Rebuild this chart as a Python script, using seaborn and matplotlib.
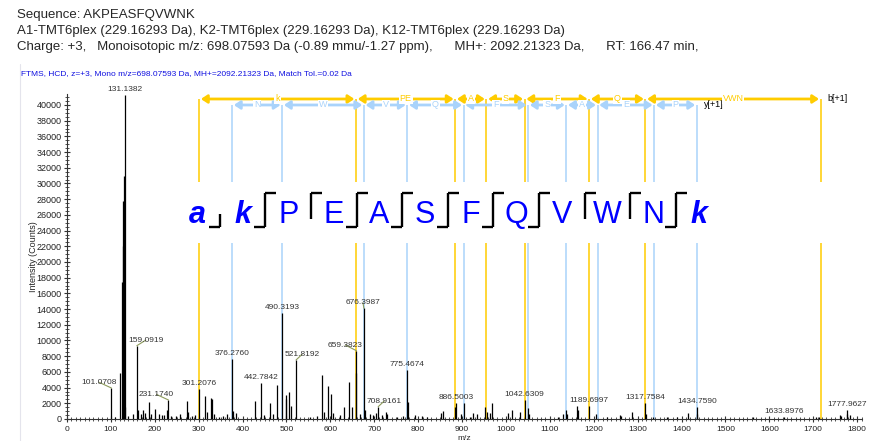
import numpy as np
import pandas as pd
import matplotlib
matplotlib.use('Agg')
import matplotlib.pyplot as plt
import seaborn as sns
from matplotlib.lines import Line2D
from matplotlib.ticker import MultipleLocator

# spectrum peaks (m/z, intensity)
peak_mz = [101.0708, 109.0, 120.08, 126.128, 127.125, 128.131, 129.131, 130.141, 131.1382,
           133.1, 138.0, 151.0, 159.0919, 162.4, 167.7, 172.0, 177.6, 186.0, 190.5, 200.0,
           208.7, 215.6, 221.0, 227.0, 231.1740, 238.0, 248.0, 257.0, 272.5, 275.0, 284.0,
           291.5, 301.2076, 314.0, 318.0, 328.0, 331.0, 335.0, 347.0, 356.0, 363.6, 376.2760,
           377.3, 385.0, 428.0, 442.7842, 448.6, 462.0, 470.0, 477.5, 490.3193, 498.8, 500.0,
           505.0, 509.4, 521.8192, 553.4, 568.6, 581.5, 586.0, 595.0, 600.5, 606.5, 621.7,
           630.8, 643.0, 648.4, 658.4652, 659.3823, 667.0, 676.3987, 678.7, 690.0, 697.6,
           703.7, 708.9161, 716.6, 726.5, 730.0, 750.8, 766.0, 775.4674, 775.80, 792.5, 807.8,
           819.0, 851.0, 857.0, 884.6, 886.5003, 896.6, 903.5, 917.8, 925.0, 933.0, 952.0,
           957.0, 963.0, 968.6, 1003.6, 1014.0, 1031.7, 1042.6309, 1050.6, 1052.0, 1119.0,
           1130.0, 1136.6, 1139.6, 1161.0, 1163.0, 1189.6997, 1206.0, 1229.0, 1259.4, 1263.0,
           1288.0, 1317.7584, 1320.0, 1335.0, 1366.0, 1388.5, 1415.0, 1434.7590, 1436.0,
           1561.6, 1633.8976, 1707.0, 1713.0, 1760.5, 1764.0, 1776.0, 1777.9627, 1783.0]
peak_int = [3950, 300, 5800, 17500, 22000, 27800, 31000, 24000, 41300,
            1500, 400, 600, 9340, 1150, 600, 1200, 800, 2150, 700, 1300,
            600, 500, 500, 1100, 2420, 400, 400, 600, 2300, 900, 400,
            500, 3800, 2950, 900, 2650, 2600, 600, 300, 400, 600, 7650,
            1000, 800, 2250, 4550, 500, 2000, 600, 4330, 13460, 2500, 3060,
            3480, 1700, 7520, 300, 400, 5600, 900, 4150, 3150, 800, 500,
            1500, 4760, 1500, 5820, 8700, 600, 14100, 1200, 600, 500,
            800, 1570, 500, 930, 600, 300, 400, 6240, 2200, 500, 400,
            300, 720, 1000, 1500, 2000, 600, 2000, 300, 800, 600, 1570,
            900, 800, 2000, 720, 1150, 900, 2420, 1360, 600, 300,
            600, 1150, 700, 1650, 1100, 1700, 600, 300, 500, 400,
            930, 2040, 700, 300, 200, 300, 720, 1530, 600,
            300, 250, 300, 200, 500, 400, 600, 1150, 500]

# labelled peaks
label_mz = [101.0708, 131.1382, 159.0919, 231.1740, 301.2076, 376.2760, 442.7842, 490.3193,
            521.8192, 659.3823, 676.3987, 708.9161, 775.4674, 886.5003, 1042.6309, 1189.6997,
            1317.7584, 1434.7590, 1633.8976, 1777.9627]
label_int = [3950, 41300, 9340, 2420, 3800, 7650, 4550, 13460,
             7520, 8700, 14100, 1570, 6240, 2000, 2420, 1700,
             2040, 1530, 250, 1150]
label_dx = [-12, 0, 9, -12, 0, 0, 0, 0, 6, -11, -1, 6, 0, 0, 0, 0, 0, 0, 0, 0]

# matched fragment ions
b_ion_mz = [301.2073, 658.4652, 884.5606, 955.5977, 1042.6297, 1189.6981, 1317.7567, 1716.9473]
b_seg_labels = ['k', 'PE', 'A', 'S', 'F', 'Q', 'VWN']
y_ion_mz = [376.2757, 490.3187, 676.3980, 775.4664, 903.5250, 1050.5934, 1137.6254,
            1208.6625, 1337.7051, 1434.7579]
y_seg_labels = ['N', 'W', 'V', 'Q', 'F', 'S', 'A', 'E', 'P']

sequence = ['a', 'k', 'P', 'E', 'A', 'S', 'F', 'Q', 'V', 'W', 'N', 'k']
b_cleave = [True, True, False, True, True, True, True, True, False, False, True]
y_cleave = [False, True, True, True, True, True, True, True, True, True, True]

B_COL = '#FFCC00'
Y_COL = '#A9D3FB'

sns.set_theme(style='ticks')
plt.rcParams['font.family'] = ['Liberation Sans', 'DejaVu Sans']

W, H = 871, 441
fig = plt.figure(figsize=(W / 100, H / 100), dpi=100)
ax = fig.add_axes([67 / W, 22 / H, (862 - 67) / W, (419 - 94) / H])

df = pd.DataFrame({'mz': peak_mz, 'intensity': peak_int})

yb, yy = 40765, 40000
gap_lo, gap_hi = 22420, 30190

# fragment ion lines, broken where the sequence sits
for mz in b_ion_mz:
    ax.vlines(mz, 0, gap_lo, color=B_COL, lw=1.1, zorder=2)
    ax.vlines(mz, gap_hi, yb, color=B_COL, lw=1.1, zorder=2)
for mz in y_ion_mz:
    ax.vlines(mz, 0, gap_lo, color=Y_COL, lw=1.1, zorder=2)
    ax.vlines(mz, gap_hi, yy, color=Y_COL, lw=1.1, zorder=2)

# peaks
ax.vlines(df['mz'], 0, df['intensity'], color='black', lw=0.9, zorder=3)


def bracket(xs, labels, y, col, end_label):
    for i, lab in enumerate(labels):
        ax.annotate('', xy=(xs[i + 1], y), xytext=(xs[i], y),
                    arrowprops=dict(arrowstyle='<|-|>,head_length=0.3,head_width=0.2',
                                    color=col, lw=2.0, shrinkA=1.2, shrinkB=1.2),
                    annotation_clip=False, zorder=4)
        ax.text((xs[i] + xs[i + 1]) / 2, y, lab, color=col, fontsize=6.5, ha='center',
                va='center', zorder=5,
                bbox=dict(boxstyle='square,pad=0.1', fc='white', ec='none'))
    ax.annotate(end_label, xy=(xs[-1], y), xytext=(5, 0), textcoords='offset points',
                fontsize=6.5, color='black', va='center', annotation_clip=False)


bracket(b_ion_mz, b_seg_labels, yb, B_COL, 'b[+1]')
bracket(y_ion_mz, y_seg_labels, yy, Y_COL, 'y[+1]')

# peak labels
for mz, it, dx in zip(label_mz, label_int, label_dx):
    kw = {}
    if dx != 0:
        kw['arrowprops'] = dict(arrowstyle='-', color='#8C9A5A', lw=0.8, shrinkA=0, shrinkB=0)
    ax.annotate(f'{mz:.4f}', xy=(mz, it), xytext=(dx / 1.389, 1.5), textcoords='offset points',
                ha='center', va='bottom', fontsize=6, color='#333333',
                annotation_clip=False, zorder=6, **kw)

ax.set_xlim(0, 1811)
ax.set_ylim(0, 41400)
ax.xaxis.set_major_locator(MultipleLocator(100))
ax.xaxis.set_minor_locator(MultipleLocator(10))
ax.yaxis.set_major_locator(MultipleLocator(2000))
ax.yaxis.set_minor_locator(MultipleLocator(500))
ax.tick_params(axis='both', which='major', direction='inout', length=5, width=0.8,
               color='#333333', labelsize=6, labelcolor='#222222', pad=1.5)
ax.tick_params(axis='both', which='minor', direction='inout', length=2.5, width=0.6,
               color='#333333')
ax.tick_params(axis='y', labelsize=6.5)
ax.tick_params(axis='x', pad=2.5)
for s in ['left', 'bottom']:
    ax.spines[s].set_color('#333333')
    ax.spines[s].set_linewidth(0.8)
sns.despine(ax=ax)
ax.set_xlabel('m/z', fontsize=6, labelpad=1.5)
ax.set_ylabel('Intensity (Counts)', fontsize=6.5, labelpad=-1.5)


def fx(px):
    return px / W


def fy(py):
    return 1 - py / H


# sequence with fragment marks
step = 45.6
for i, aa in enumerate(sequence):
    mod = aa.islower()
    fig.text(fx(197 + step * i), fy(223), aa, fontsize=22, color='#0000FF', ha='center',
             va='baseline', fontweight='bold' if mod else 'normal',
             fontstyle='italic' if mod else 'normal')

for i in range(len(b_cleave)):
    xm = 197 + step * (i + 0.5)
    b, y = b_cleave[i], y_cleave[i]
    top = 193 if y else 214
    bot = 227 if b else 219
    segs = [([xm, xm], [top, bot])]
    if b:
        segs.append(([xm - 11, xm], [227, 227]))
    if y:
        segs.append(([xm, xm + 11], [193, 193]))
    for xs, ys in segs:
        fig.add_artist(Line2D([fx(v) for v in xs], [fy(v) for v in ys], color='black',
                              lw=1.7, solid_capstyle='butt', transform=fig.transFigure))

# header
fig.text(fx(17), fy(18), 'Sequence: AKPEASFQVWNK', fontsize=9.5, va='baseline')
fig.text(fx(17), fy(34), 'A1-TMT6plex (229.16293 Da), K2-TMT6plex (229.16293 Da), '
         'K12-TMT6plex (229.16293 Da)', fontsize=9.5, va='baseline')
fig.text(fx(17), fy(50), 'Charge: +3,   Monoisotopic m/z: 698.07593 Da (-0.89 mmu/-1.27 ppm),'
         '      MH+: 2092.21323 Da,      RT: 166.47 min,', fontsize=9.5, va='baseline')
fig.text(fx(21), fy(75), 'FTMS, HCD, z=+3, Mono m/z=698.07593 Da, MH+=2092.21323 Da, '
         'Match Tol.=0.02 Da', fontsize=6, color='#1010E0', va='baseline')
fig.add_artist(Line2D([fx(20), fx(20)], [fy(64), fy(441)], color='#E4E4EC', lw=0.8,
                      transform=fig.transFigure))

fig.savefig('out.png', dpi=100, facecolor='white')
